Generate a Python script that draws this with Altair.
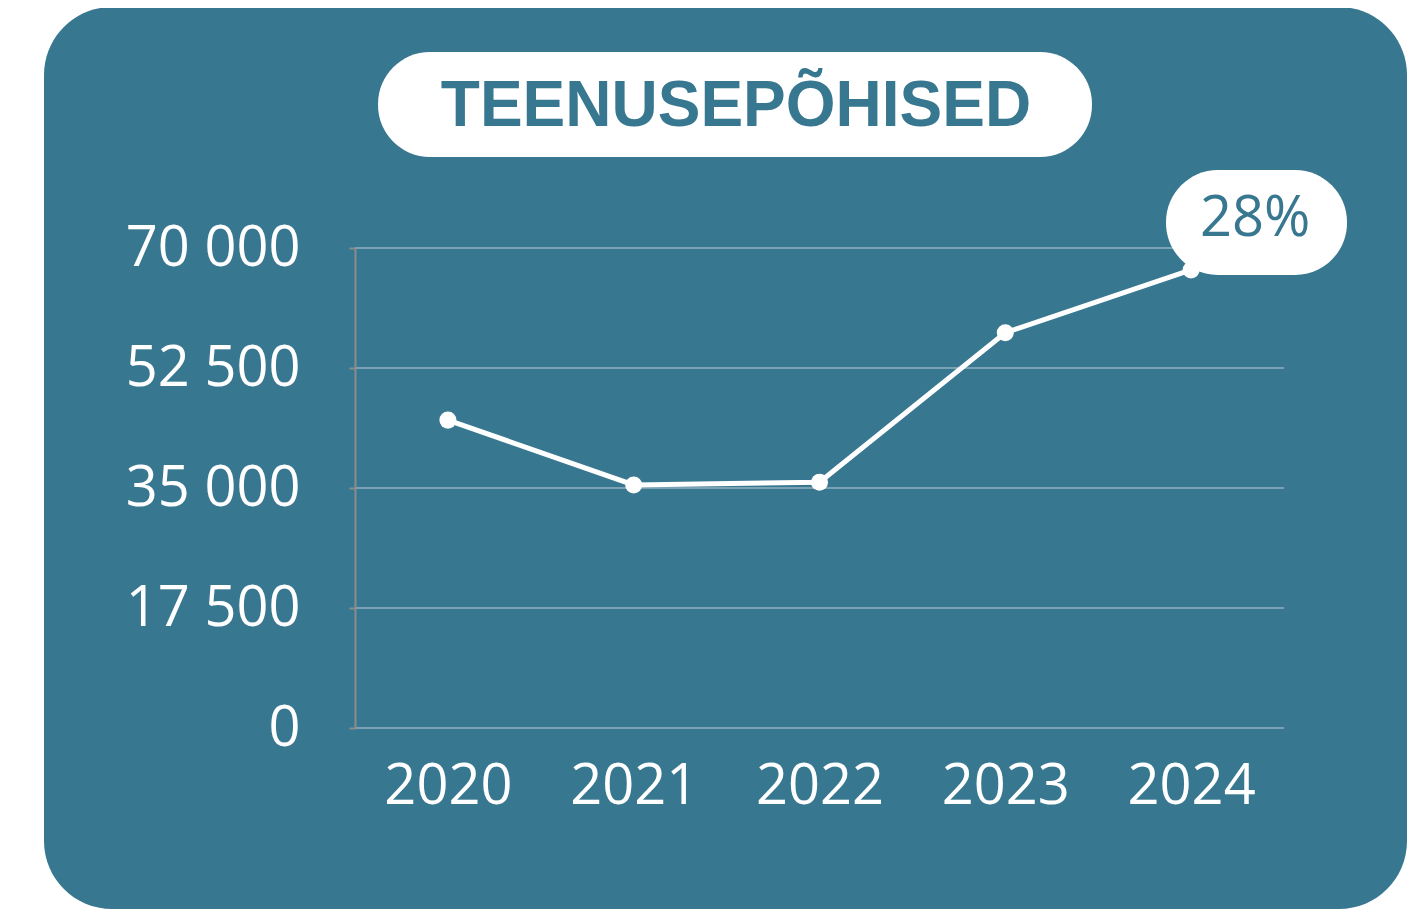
import altair as alt
import pandas as pd

years = ["2020", "2021", "2022", "2023", "2024"]
values = [44900, 35450, 35850, 57650, 66800]
tick_values = [0, 17500, 35000, 52500, 70000]
title_text = "TEENUSEPÕHISED"
badge_text = "28%"
badge_year = "2024"

TEAL = "#387790"
GRID = "#7AA2B4"
AXIS_GRAY = "#8C8C8C"

df = pd.DataFrame({"year": years, "value": values})
grid_df = pd.DataFrame({"value": tick_values})
one = alt.Data(values=[{"k": 1}])

W, H = 929, 480

y_axis = alt.Axis(title="", values=tick_values, grid=False,
                  labelExpr="replace(format(datum.value, ','), ',', ' ')",
                  labelFont="Open Sans", labelFontSize=56, labelColor="white",
                  labelPadding=49, domainColor=AXIS_GRAY, domainWidth=2,
                  tickColor=AXIS_GRAY, tickWidth=2, tickSize=6, zindex=1)
y_scale = alt.Scale(domain=[0, 70000])

bg = alt.Chart(one).mark_rect(color=TEAL, cornerRadius=68).encode(
    x=alt.value(-311), x2=alt.value(1052), y=alt.value(-241), y2=alt.value(661)
)

grid = alt.Chart(grid_df).mark_rule(color=GRID, strokeWidth=2).encode(
    y=alt.Y("value:Q", axis=y_axis, scale=y_scale),
    x=alt.value(0), x2=alt.value(W),
)

title_pill = alt.Chart(one).mark_rect(color="white", cornerRadius=52).encode(
    x=alt.value(23), x2=alt.value(737), y=alt.value(-196), y2=alt.value(-91)
)
title = alt.Chart(one).mark_text(
    text=title_text, font="Liberation Sans", fontWeight="bold", fontSize=64,
    color=TEAL, align="center", baseline="middle"
).encode(x=alt.value(381), y=alt.value(-141))

x_enc = alt.X("year:O", scale=alt.Scale(type="point", padding=0.5),
              axis=alt.Axis(title="", labelAngle=0, domain=False, ticks=False, tickSize=0,
                            grid=False, labelFont="Open Sans", labelFontSize=56,
                            labelColor="white", labelPadding=31, labelBaseline="top",
                            zindex=1))
y_enc = alt.Y("value:Q", scale=y_scale, axis=y_axis)

line = alt.Chart(df).mark_line(color="white", strokeWidth=5).encode(x=x_enc, y=y_enc)
pts = alt.Chart(df).mark_circle(color="white", size=290, opacity=1).encode(
    x="year:O", y="value:Q")

badge_pill = alt.Chart(one).mark_rect(color="white", cornerRadius=52).encode(
    x=alt.value(811), x2=alt.value(992), y=alt.value(-78), y2=alt.value(27)
)
badge = alt.Chart(df).transform_filter(
    alt.datum.year == badge_year
).mark_text(
    text=badge_text, font="Open Sans", fontSize=56, color=TEAL,
    align="center", baseline="middle", dx=64, dy=-51
).encode(x="year:O", y="value:Q")

chart = alt.layer(bg, grid, title_pill, title, line, pts, badge_pill, badge).properties(
    width=W, height=H,
    padding={"left": 347, "top": 240, "right": 123, "bottom": 181},
    autosize=alt.AutoSizeParams(type="none"),
).configure(background="white").configure_view(strokeWidth=0)

chart.save("out.html", embed_options={"renderer": "svg", "actions": False})
